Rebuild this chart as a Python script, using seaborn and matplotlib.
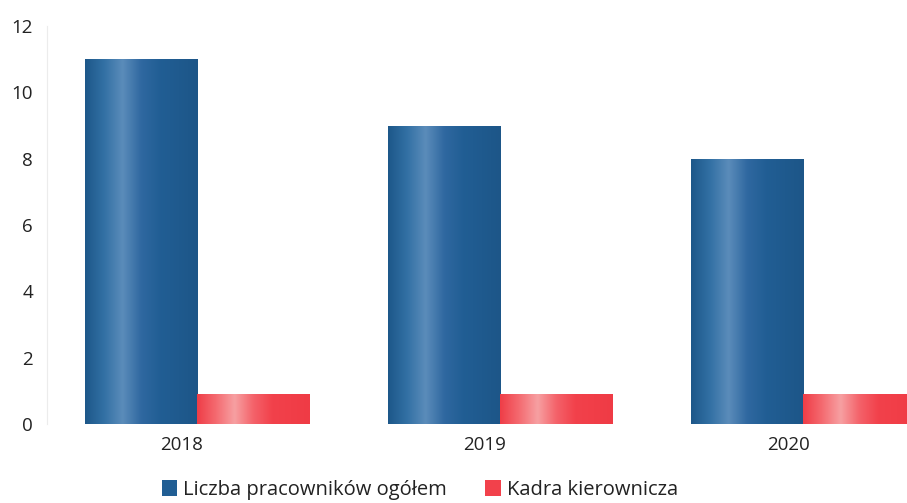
import numpy as np
import pandas as pd
import matplotlib
matplotlib.use("Agg")
import matplotlib.pyplot as plt
from matplotlib.colors import LinearSegmentedColormap
from matplotlib.transforms import ScaledTranslation
import seaborn as sns

# Dane
lata = ["2018", "2019", "2020"]
pracownicy_ogolem = [11, 9, 8]
kadra_kierownicza = [0.9, 0.9, 0.9]
serie = ["Liczba pracowników ogółem", "Kadra kierownicza"]
kolory = ["#215e94", "#f2414b"]

df = pd.DataFrame({
    "rok": lata * 2,
    "wartosc": pracownicy_ogolem + kadra_kierownicza,
    "seria": [serie[0]] * len(lata) + [serie[1]] * len(lata),
})

sns.set_style("white")
plt.rcParams["font.family"] = ["Open Sans", "DejaVu Sans"]

fig = plt.figure(figsize=(9.07, 5.03), dpi=100)
ax = fig.add_axes([47 / 907, 79 / 503, 1 - 47 / 907, (424 - 26) / 503])

sns.barplot(data=df, x="rok", y="wartosc", hue="seria", hue_order=serie,
            palette=kolory, saturation=1, width=0.74, gap=0, linewidth=0,
            ax=ax, legend=True)

# cieniowanie "cylindryczne" słupków
gradienty = [
    ["#1d5789", "#3270a4", "#5b8cba", "#2f68a0", "#215e94", "#1f5a8e", "#1d5688"],
    ["#ef3d47", "#f46a70", "#f7a0a2", "#f4626a", "#f2414b", "#f13e48", "#ef3b45"],
]
grad = np.linspace(0, 1, 256).reshape(1, -1)
for cont, kol in zip(ax.containers, gradienty):
    cmap = LinearSegmentedColormap.from_list("g", kol)
    for patch in cont.patches:
        x0, y0 = patch.get_x(), patch.get_y()
        w, h = patch.get_width(), patch.get_height()
        im = ax.imshow(grad, cmap=cmap, aspect="auto", extent=(x0, x0 + w, y0, y0 + h),
                       zorder=patch.get_zorder() + 0.1, interpolation="bicubic")
        im.set_clip_path(patch)

ax.set_xlim(-0.495, 2.343)
ax.set_ylim(0, 12)
ax.set_yticks([0, 2, 4, 6, 8, 10, 12])
ax.set_xlabel("")
ax.set_ylabel("")

for s in ["top", "right", "bottom"]:
    ax.spines[s].set_visible(False)
ax.spines["left"].set_color("#ececec")
ax.spines["left"].set_linewidth(0.8)

ax.tick_params(axis="y", labelsize=13.5, colors="#222222", length=0, pad=10)
ax.tick_params(axis="x", labelsize=13.5, colors="#222222", length=0, pad=9)
for lab in ax.get_xticklabels():
    lab.set_transform(lab.get_transform() + ScaledTranslation(-0.15, 0, fig.dpi_scale_trans))

handles, labels = ax.get_legend_handles_labels()
ax.get_legend().remove()
fig.legend(handles, labels, loc="center", bbox_to_anchor=(420 / 907, 1 - 490 / 503),
           ncol=2, frameon=False, fontsize=14.5, handlelength=0.75, handleheight=0.85,
           handletextpad=0.3, columnspacing=1.9, labelcolor="#222222")

fig.savefig("out.png", dpi=100)
